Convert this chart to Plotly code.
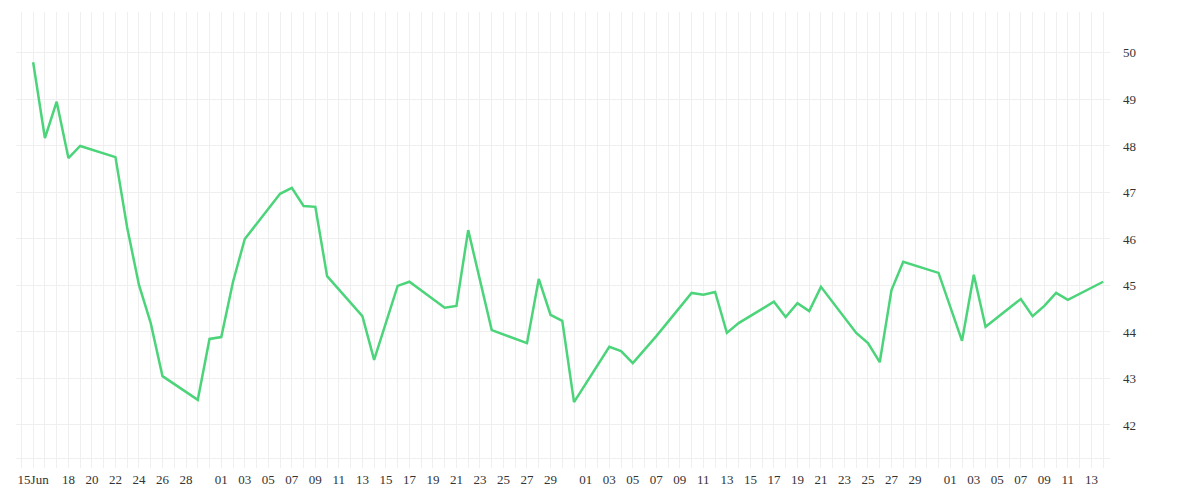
import plotly.graph_objects as go
import pandas as pd

dates = ["2020-06-15","2020-06-16","2020-06-17","2020-06-18","2020-06-19","2020-06-22","2020-06-23","2020-06-24","2020-06-25","2020-06-26",
"2020-06-29","2020-06-30","2020-07-01","2020-07-02","2020-07-03","2020-07-06","2020-07-07","2020-07-08","2020-07-09","2020-07-10",
"2020-07-13","2020-07-14","2020-07-16","2020-07-17","2020-07-20","2020-07-21","2020-07-22","2020-07-24","2020-07-27","2020-07-28",
"2020-07-29","2020-07-30","2020-07-31","2020-08-03","2020-08-04","2020-08-05","2020-08-07","2020-08-10","2020-08-11","2020-08-12",
"2020-08-13","2020-08-14","2020-08-17","2020-08-18","2020-08-19","2020-08-20","2020-08-21","2020-08-24","2020-08-25","2020-08-26",
"2020-08-27","2020-08-28","2020-08-31","2020-09-02","2020-09-03","2020-09-04","2020-09-07","2020-09-08","2020-09-09","2020-09-10",
"2020-09-11","2020-09-14"]
values = [49.8,48.17,48.95,47.74,48.0,47.76,46.24,45.01,44.19,43.05,
42.54,43.85,43.89,45.08,46.0,46.97,47.1,46.71,46.69,45.2,
44.34,43.4,44.99,45.08,44.52,44.56,46.19,44.04,43.76,45.14,
44.37,44.24,42.49,43.68,43.59,43.33,43.91,44.84,44.8,44.86,
43.98,44.19,44.65,44.32,44.62,44.45,44.97,43.98,43.76,43.35,
44.9,45.51,45.27,43.81,45.23,44.11,44.71,44.34,44.56,44.84,
44.69,45.08]

tick_dates = ["2020-06-15","2020-06-18","2020-06-20","2020-06-22","2020-06-24","2020-06-26","2020-06-28"]
tick_dates += [f"2020-07-{d:02d}" for d in range(1, 30, 2)]
tick_dates += [f"2020-08-{d:02d}" for d in range(1, 30, 2)]
tick_dates += [f"2020-09-{d:02d}" for d in range(1, 14, 2)]
tick_text = ["15Jun"] + [pd.Timestamp(d).strftime("%d") for d in tick_dates[1:]]

fig = go.Figure(go.Scatter(x=dates, y=values, mode="lines",
                           line=dict(color="#4cd47a", width=2.5), hoverinfo="x+y"))
grid = "#efefef"
fig.update_layout(
    width=1200, height=500, paper_bgcolor="white", plot_bgcolor="white",
    margin=dict(l=8, r=98, t=4, b=50), showlegend=False,
    font=dict(family="Liberation Serif", size=13, color="#333"),
    xaxis=dict(type="date", range=["2020-06-13 13:00", "2020-09-14 14:00"],
               tickvals=tick_dates, ticktext=tick_text, tickangle=0,
               showgrid=True, gridcolor=grid, ticks="outside", ticklen=9, tickcolor=grid,
               minor=dict(dtick=86400000, showgrid=True, gridcolor=grid, ticks="outside", ticklen=9, tickcolor=grid),
               showline=True, linecolor=grid, zeroline=False),
    yaxis=dict(side="right", range=[41.29, 50.88], tickvals=list(range(42, 51)),
               showgrid=True, gridcolor=grid, zeroline=False, ticks="", ticklabelstandoff=12),
)
fig.write_html("out.html")
